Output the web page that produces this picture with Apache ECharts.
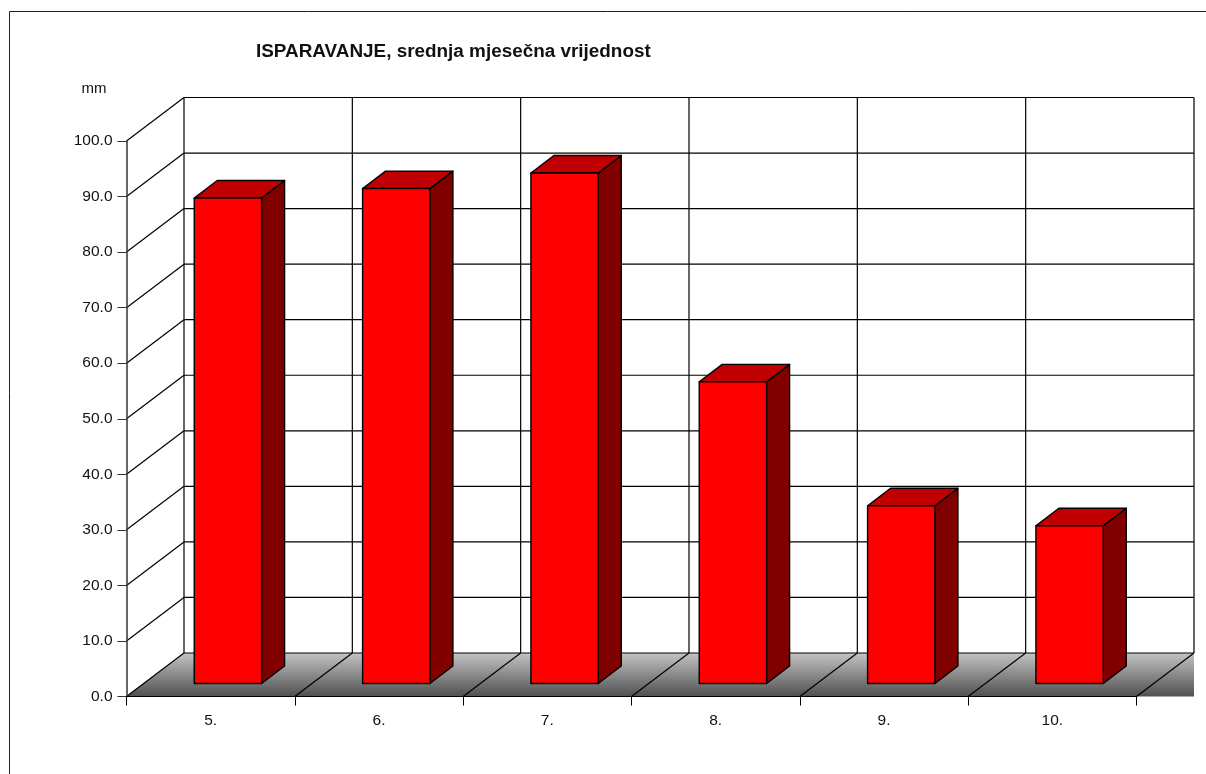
<!DOCTYPE html>
<html>
<head>
<meta charset="utf-8">
<style>html,body{margin:0;padding:0;background:#fff}#c{width:1206px;height:774px}</style>
<script src="https://cdn.jsdelivr.net/npm/echarts@6/dist/echarts.min.js"></script>
</head>
<body>
<div id="c"></div>
<script>
const categories = ['5.', '6.', '7.', '8.', '9.', '10.'];
const values = [87.4, 89.1, 91.9, 54.3, 32.0, 28.4];
const yTicks = [0, 10, 20, 30, 40, 50, 60, 70, 80, 90, 100];
const titleText = 'ISPARAVANJE, srednja mjesečna vrijednost';
const unitText = 'mm';

const DX = 57.5, DY = -43.5;          // depth projection of the 3D box
const FONT = '"Liberation Sans", Arial, sans-serif';
const LINE = '#000';
const TEXT = '#111';

const chart = echarts.init(document.getElementById('c'), null, {renderer: 'canvas'});

function line(x1, y1, x2, y2, w) {
  return {type: 'line', shape: {x1, y1, x2, y2}, style: {stroke: LINE, lineWidth: w || 1, fill: null}, silent: true};
}
function poly(points, fill, w) {
  return {type: 'polygon', shape: {points}, style: {fill, stroke: LINE, lineWidth: w === undefined ? 1 : w, lineJoin: 'round'}, silent: true};
}

function renderWalls(params, api) {
  const band = api.size([1, 0])[0];
  const x0 = api.coord([0, 0])[0] - band / 2;
  const x1 = x0 + band * categories.length;
  const yB = api.coord([0, 0])[1];
  const yT = api.coord([0, 100])[1];
  const kids = [];
  // floor
  kids.push({
    type: 'polygon',
    shape: {points: [[x0, yB], [x0 + DX, yB + DY], [x1 + DX, yB + DY], [x1 + DX, yB]]},
    style: {
      fill: {type: 'linear', x: 0, y: 0, x2: 0, y2: 1, colorStops: [
        {offset: 0, color: '#c4c4c4'}, {offset: 1, color: '#505050'}]},
      stroke: null
    },
    silent: true
  });
  // horizontal grid: side wall and back wall
  yTicks.forEach(function (t) {
    const y = api.coord([0, t])[1];
    if (t > 0) kids.push(line(x0, y, x0 + DX, y + DY, 1.2));
    kids.push(line(x0 + DX, y + DY, x1 + DX, y + DY, 1.2));
  });
  // vertical grid on back wall and diagonals on floor
  for (let i = 0; i <= categories.length; i++) {
    const x = x0 + band * i;
    kids.push(line(x + DX, yT + DY, x + DX, yB + DY, 1.2));
    kids.push(line(x, yB, x + DX, yB + DY, 1.2));
  }
  return {type: 'group', children: kids};
}

function renderBar(params, api) {
  const cat = api.value(0), val = api.value(1);
  const band = api.size([1, 0])[0];
  const base = api.coord([cat, 0]);
  const top = api.coord([cat, val]);
  const w = band * 0.4;
  const f = 0.3, d = 0.4;              // front offset and thickness in the depth
  const l = base[0] - w / 2 + DX * f, r = l + w;
  const yb = base[1] + DY * f, yt = top[1] + DY * f;
  const ox = DX * d, oy = DY * d;
  return {type: 'group', children: [
    poly([[r, yt], [r + ox, yt + oy], [r + ox, yb + oy], [r, yb]], '#800000', 1.4),
    poly([[l, yt], [l + ox, yt + oy], [r + ox, yt + oy], [r, yt]], '#c00000', 1.4),
    poly([[l, yt], [r, yt], [r, yb], [l, yb]], '#ff0000', 1.4)
  ]};
}

chart.setOption({
  animation: false,
  backgroundColor: '#fff',
  textStyle: {fontFamily: FONT},
  title: {
    text: titleText, left: 251, top: 37,
    textStyle: {fontFamily: FONT, fontSize: 18.9, fontWeight: 'bold', color: TEXT}
  },
  graphic: [
    {type: 'line', shape: {x1: 9.5, y1: 11.5, x2: 1206, y2: 11.5}, style: {stroke: '#222', lineWidth: 1}, silent: true},
    {type: 'line', shape: {x1: 9.5, y1: 11.5, x2: 9.5, y2: 774}, style: {stroke: '#222', lineWidth: 1}, silent: true}
  ],
  grid: {left: 126.5, right: 69.5, top: 141, bottom: 77.5, containLabel: false},
  xAxis: {
    type: 'category', data: categories, z: 5,
    axisLine: {lineStyle: {color: '#000', width: 1}},
    axisTick: {show: true, length: 9, alignWithLabel: false, lineStyle: {color: '#000'}},
    axisLabel: {fontFamily: FONT, fontSize: 15.5, color: TEXT, margin: 16},
    splitLine: {show: false}
  },
  yAxis: {
    type: 'value', min: 0, max: 100, interval: 10, z: 5,
    name: unitText, nameLocation: 'end', nameGap: 45,
    nameTextStyle: {fontFamily: FONT, fontSize: 15, color: TEXT, align: 'right', padding: [0, 20, 0, 0]},
    axisLine: {show: true, lineStyle: {color: '#333', width: 1.5}},
    axisTick: {show: true, length: 9, lineStyle: {color: '#333'}},
    axisLabel: {fontFamily: FONT, fontSize: 15.5, color: TEXT, margin: 14,
      formatter: function (v) { return v.toFixed(1); }},
    splitLine: {show: false}
  },
  series: [
    {type: 'custom', name: 'walls', renderItem: renderWalls, data: [[0, 0]], clip: false, silent: true, z: 1,
      encode: {x: 0, y: 1}},
    {type: 'custom', name: 'ISPARAVANJE', renderItem: renderBar, clip: false, silent: true, z: 2,
      encode: {x: 0, y: 1},
      data: values.map(function (v, i) { return [i, v]; })}
  ]
});
</script>
</body>
</html>
